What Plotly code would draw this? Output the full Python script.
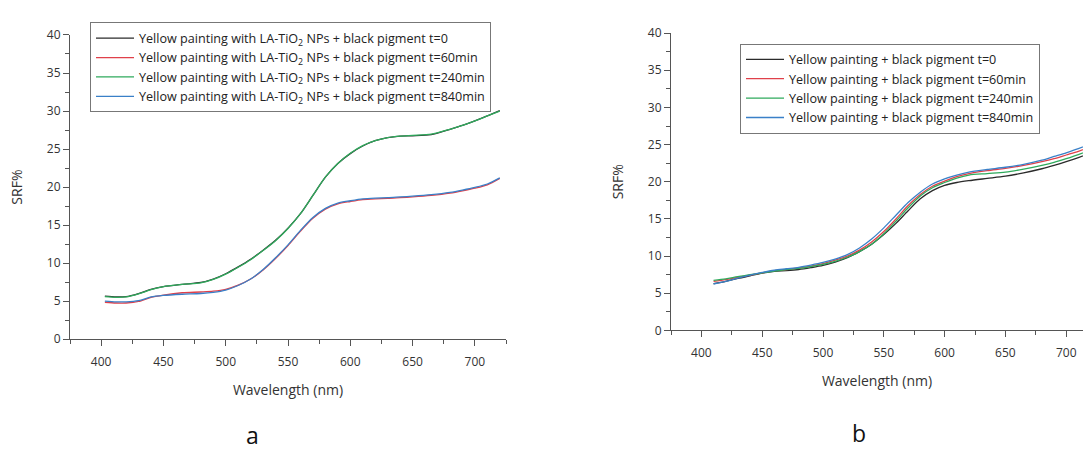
import plotly.graph_objects as go

# ---------------- data ----------------
wl_a = [403, 412, 420, 430, 440, 450, 465, 480, 490, 500, 510, 520, 530, 540, 550, 560,
        570, 580, 590, 600, 610, 620, 630, 640, 650, 665, 680, 690, 700, 710, 720]
a_t0 = [5.65, 5.55, 5.6, 6.0, 6.55, 6.9, 7.2, 7.45, 7.9, 8.6, 9.5, 10.5, 11.7, 13.0, 14.6, 16.5,
        18.9, 21.3, 23.1, 24.4, 25.4, 26.1, 26.5, 26.7, 26.75, 26.9, 27.6, 28.1, 28.7, 29.35, 30.05]
a_t60 = [4.85, 4.75, 4.75, 4.95, 5.5, 5.8, 6.1, 6.2, 6.3, 6.55, 7.1, 7.9, 9.1, 10.6, 12.3, 14.2,
         15.9, 17.1, 17.8, 18.1, 18.35, 18.45, 18.5, 18.6, 18.7, 18.9, 19.2, 19.5, 19.85, 20.3, 21.15]
a_t240 = [5.6, 5.5, 5.55, 5.95, 6.5, 6.9, 7.2, 7.4, 7.85, 8.55, 9.45, 10.45, 11.65, 12.95, 14.55, 16.5,
          18.9, 21.3, 23.1, 24.45, 25.45, 26.1, 26.5, 26.7, 26.8, 26.95, 27.6, 28.1, 28.7, 29.35, 30.0]
a_t840 = [5.0, 4.9, 4.9, 5.05, 5.55, 5.75, 5.9, 6.0, 6.15, 6.45, 7.05, 7.9, 9.15, 10.7, 12.4, 14.3,
          16.0, 17.2, 17.9, 18.2, 18.45, 18.55, 18.6, 18.7, 18.8, 19.0, 19.3, 19.6, 19.95, 20.4, 21.2]

wl_b = [410, 420, 430, 440, 450, 460, 470, 480, 490, 500, 510, 520, 530, 540, 550, 560,
        570, 580, 590, 600, 610, 620, 635, 650, 665, 680, 690, 700, 710, 720]
b_t0 = [6.3, 6.6, 7.0, 7.35, 7.7, 7.95, 8.05, 8.2, 8.45, 8.75, 9.2, 9.8, 10.6, 11.6, 12.9, 14.4,
        16.1, 17.7, 18.8, 19.5, 19.9, 20.15, 20.45, 20.75, 21.2, 21.75, 22.2, 22.7, 23.25, 23.85]
b_t60 = [6.6, 6.85, 7.15, 7.45, 7.75, 8.05, 8.2, 8.4, 8.65, 9.0, 9.45, 10.0, 10.8, 11.9, 13.3, 15.0,
         16.8, 18.3, 19.4, 20.1, 20.7, 21.1, 21.5, 21.8, 22.2, 22.7, 23.1, 23.6, 24.1, 24.7]
b_t240 = [6.75, 6.95, 7.25, 7.5, 7.75, 8.0, 8.2, 8.35, 8.6, 8.9, 9.3, 9.85, 10.6, 11.6, 13.0, 14.7,
          16.5, 18.1, 19.2, 19.9, 20.5, 20.9, 21.1, 21.3, 21.7, 22.2, 22.6, 23.1, 23.65, 24.3]
b_t840 = [6.25, 6.6, 7.05, 7.45, 7.8, 8.1, 8.3, 8.5, 8.8, 9.15, 9.6, 10.2, 11.1, 12.3, 13.8, 15.5,
          17.2, 18.6, 19.7, 20.4, 20.9, 21.3, 21.65, 21.95, 22.35, 22.9, 23.4, 23.9, 24.45, 25.1]

times = ["t=0", "t=60min", "t=240min", "t=840min"]
colors = ["#2b2b2b", "#e0404a", "#2faa5c", "#3a80c8"]
name_a = "Yellow painting with LA-TiO<sub>2</sub> NPs + black pigment "
name_b = "Yellow painting + black pigment "

FONT = "Open Sans"
AX = "#555555"

fig = go.Figure()
for ys, t, c in zip([a_t0, a_t60, a_t240, a_t840], times, colors):
    fig.add_trace(go.Scatter(x=wl_a, y=ys, mode="lines", name=name_a + t,
                             line=dict(color=c, width=1.3, shape="spline", smoothing=0.8),
                             xaxis="x", yaxis="y", legend="legend"))
for ys, t, c in zip([b_t0, b_t60, b_t240, b_t840], times, colors):
    fig.add_trace(go.Scatter(x=wl_b, y=ys, mode="lines", name=name_b + t,
                             line=dict(color=c, width=1.3, shape="spline", smoothing=0.8),
                             xaxis="x2", yaxis="y2", legend="legend2"))

W, H = 1083, 453

def xax(domain, rng, standoff):
    return dict(domain=domain, range=rng, showline=True, linecolor=AX, linewidth=1,
                ticks="outside", ticklen=6, tickcolor=AX, tickwidth=1,
                tick0=400, dtick=50, showgrid=False, zeroline=False, ticklabelstandoff=5,
                tickfont=dict(family=FONT, size=12, color="#333"),
                minor=dict(ticks="outside", ticklen=4, tickcolor=AX, dtick=25, tick0=375),
                title=dict(text="Wavelength (nm)", standoff=standoff,
                           font=dict(family=FONT, size=14, color="#333")))

def yax(domain, anchor, standoff):
    return dict(domain=domain, range=[0, 40], anchor=anchor, showline=True, linecolor=AX,
                linewidth=1, ticks="outside", ticklen=6, tickcolor=AX, tickwidth=1,
                tick0=0, dtick=5, showgrid=False, zeroline=False,
                tickfont=dict(family=FONT, size=12, color="#333"),
                minor=dict(ticks="outside", ticklen=4, tickcolor=AX, dtick=2.5),
                title=dict(text="SRF%", standoff=standoff,
                           font=dict(family=FONT, size=14, color="#333")))

xa = xax([70 / W, 506 / W], [375, 725], 16)
xa["anchor"] = "y"
xb = xax([671 / W, 1.0], [375, 375 + 412 / 1.216], 16)
xb["anchor"] = "y2"

legend_style = dict(bgcolor="white", bordercolor="#777", borderwidth=1,
                    font=dict(family=FONT, size=12.6, color="#222"),
                    xanchor="left", yanchor="top", tracegroupgap=0, itemwidth=38)

fig.update_layout(
    width=W, height=H, margin=dict(l=0, r=0, t=0, b=0),
    paper_bgcolor="white", plot_bgcolor="white",
    xaxis=xa, yaxis=yax([1 - 343 / H, 1 - 27 / H], "x", 20),
    xaxis2=xb, yaxis2=yax([1 - 334 / H, 1 - 25 / H], "x2", 20),
    legend=dict(x=90 / W, y=1 - 14 / H, **legend_style),
    legend2=dict(x=740 / W, y=1 - 36 / H, **legend_style),
    annotations=[
        dict(text="a", x=252 / W, y=1 - 443 / H, xref="paper", yref="paper",
             xanchor="center", yanchor="middle",
             showarrow=False, font=dict(family=FONT, size=23, color="#111")),
        dict(text="b", x=859 / W, y=1 - 441 / H, xref="paper", yref="paper",
             xanchor="center", yanchor="middle",
             showarrow=False, font=dict(family=FONT, size=23, color="#111")),
    ],
)

fig.write_html("out.html")
